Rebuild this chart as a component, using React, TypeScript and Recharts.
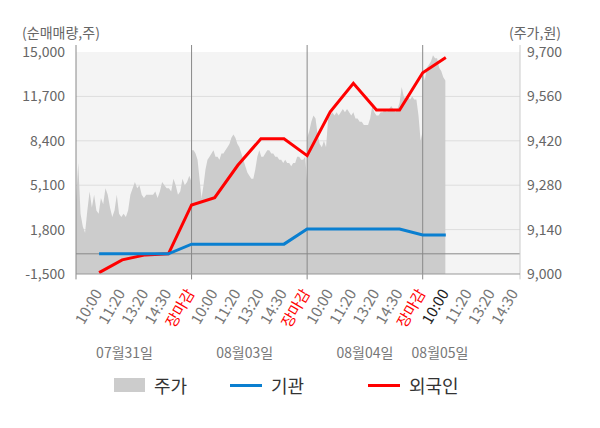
import React from 'react';
import { ComposedChart, Area, Line, XAxis, YAxis, CartesianGrid, ReferenceLine, ReferenceDot, Legend } from 'recharts';

const FONT = '"Noto Sans CJK KR", "Noto Sans", sans-serif';

// 주가 (price, won) — sampled through each trading day
const day1Price = [9230, 9350, 9190, 9150, 9130, 9200, 9260, 9210, 9250, 9200, 9190, 9240, 9220, 9270, 9250, 9210, 9180, 9200, 9250, 9190, 9180, 9190, 9180, 9200, 9250, 9270, 9290, 9270, 9280, 9250, 9240, 9250, 9250, 9250, 9250, 9260, 9240, 9260, 9290, 9280, 9270, 9270, 9260, 9300, 9280, 9250, 9260, 9300, 9280, 9290, 9310, 9290];
const day2Price = [9390, 9390, 9380, 9360, 9300, 9240, 9280, 9330, 9360, 9370, 9380, 9390, 9370, 9370, 9360, 9380, 9380, 9390, 9400, 9410, 9430, 9440, 9430, 9410, 9400, 9380, 9360, 9340, 9320, 9310, 9300, 9300, 9330, 9370, 9390, 9370, 9370, 9380, 9390, 9390, 9380, 9380, 9370, 9370, 9360, 9360, 9350, 9360, 9350, 9350, 9340, 9350, 9350, 9370, 9370, 9360, 9360, 9370, 9290];
const day3Price = [9430, 9450, 9480, 9500, 9490, 9440, 9410, 9400, 9420, 9400, 9490, 9500, 9510, 9500, 9510, 9500, 9510, 9520, 9510, 9520, 9510, 9500, 9510, 9490, 9490, 9480, 9480, 9470, 9470, 9470, 9490, 9530, 9510, 9500, 9500, 9510, 9510, 9520, 9510, 9520, 9530, 9520, 9510, 9520, 9540, 9590, 9560, 9550, 9560, 9550, 9560, 9550, 9550, 9500, 9420, 9450];
const day4Price = [9640, 9610, 9650, 9660, 9670, 9690, 9680, 9680, 9650, 9640, 9620, 9610];

// 순매매량 (net buying, shares) at each labelled time slot
const flowTimes = [1, 2, 3, 4, 5, 6, 7, 8, 9, 10, 11, 12, 13, 14, 15, 16];
const institution = [0, 0, 0, 0, 720, 720, 720, 720, 720, 1840, 1840, 1840, 1840, 1840, 1400, 1400];
const foreigner = [-1400, -450, -80, 0, 3630, 4170, 6580, 8550, 8550, 7300, 10560, 12670, 10690, 10690, 13460, 14600];

const xTickValues = [1, 2, 3, 4, 5, 6, 7, 8, 9, 10, 11, 12, 13, 14, 15, 16, 17, 18, 19];
const xTickLabels = ['10:00', '11:20', '13:20', '14:30', '장마감', '10:00', '11:20', '13:20', '14:30', '장마감', '10:00', '11:20', '13:20', '14:30', '장마감', '10:00', '11:20', '13:20', '14:30'];
const dateTickValues = [2.1, 7.3, 12.5, 15.75];
const dateLabels = ['07월31일', '08월03일', '08월04일', '08월05일'];
const leftTicks = [-1500, 1800, 5100, 8400, 11700, 15000];
const rightTicks = [9000, 9140, 9280, 9420, 9560, 9700];
const dayBounds = [0, 5, 10, 15];
const currentTick = 16;
const X_MAX = 19.21;
const LEFT_MIN = -1500;

const legendItems = [
  { name: '주가', kind: 'rect', color: '#cccccc' },
  { name: '기관', kind: 'line', color: '#0a7fd0' },
  { name: '외국인', kind: 'line', color: '#ff0000' },
];

const buildData = () => {
  const rows: any[] = [];
  const days = [day1Price, day2Price, day3Price];
  days.forEach((arr, d) => {
    arr.forEach((p, i) => rows.push({ t: d * 5 + (5 * i) / (arr.length - 1), price: p }));
  });
  day4Price.forEach((p, i) => rows.push({ t: 15 + (0.98 * i) / (day4Price.length - 1), price: p }));
  flowTimes.forEach((t, i) => rows.push({ t, inst: institution[i], frgn: foreigner[i] }));
  rows.sort((a, b) => a.t - b.t);
  return rows;
};
const data = buildData();

const XTick = (props: any) => {
  const { x, y, payload } = props;
  const idx = Math.round(payload.value) - 1;
  const label = xTickLabels[idx];
  const color = label === '장마감' ? '#ff0000' : payload.value === currentTick ? '#222' : '#777';
  const ax = x + 3.5;
  const ay = y + 19;
  return (
    <text x={ax} y={ay} transform={`rotate(-60, ${ax}, ${ay})`} textAnchor="end" fill={color} fontSize={15} fontFamily={FONT}>
      {label}
    </text>
  );
};

const dateLabelContent = (text: string) => (p: any) => {
  const vb = p.viewBox || { x: 0, y: 0, width: 0, height: 0 };
  const cx = vb.x + (vb.width || 0) / 2;
  const cy = vb.y + (vb.height || 0) / 2;
  return (
    <text x={cx} y={cy + 84} textAnchor="middle" fill="#777" fontSize={14} fontFamily={FONT}>
      {text}
    </text>
  );
};

const LegendContent = () => (
  <div style={{ position: 'relative', width: 600, height: 26, fontFamily: FONT, fontSize: 18, color: '#333' }}>
    {legendItems.map((it, i) => {
      const lefts = [114, 230, 368];
      return (
        <div key={it.name} style={{ position: 'absolute', left: lefts[i], top: 0, height: 26, display: 'flex', alignItems: 'center' }}>
          {it.kind === 'rect' ? (
            <div style={{ width: 31, height: 14, background: it.color }} />
          ) : (
            <div style={{ width: 32, height: 3, background: it.color }} />
          )}
          <span style={{ marginLeft: 9, lineHeight: '26px' }}>{it.name}</span>
        </div>
      );
    })}
  </div>
);

const fmt = (v: number) => v.toLocaleString('en-US');

export default function App() {
  return (
    <div style={{ position: 'absolute', left: 0, top: 0, width: 600, height: 428, background: '#fff' }}>
      <ComposedChart width={600} height={428} data={data} margin={{ top: 52, right: 0, left: 0, bottom: 64 }}>
        <CartesianGrid yAxisId="left" fill="#f4f4f4" stroke="#dddddd" vertical={false} horizontalValues={[1800, 5100, 8400, 11700]} />
        <XAxis
          type="number"
          dataKey="t"
          domain={[0, X_MAX]}
          ticks={xTickValues}
          interval={0}
          allowDataOverflow
          tickLine={false}
          tickSize={0}
          tickMargin={0}
          axisLine={{ stroke: '#999' }}
          height={90}
          tick={<XTick />}
        />
        <YAxis
          yAxisId="left"
          orientation="left"
          width={76}
          domain={[LEFT_MIN, 15000]}
          ticks={leftTicks}
          interval={0}
          allowDataOverflow
          axisLine={false}
          tickLine={false}
          tickSize={0}
          tickMargin={11}
          tickFormatter={fmt}
          tick={{ fill: '#666', fontSize: 14, fontFamily: FONT }}
          label={{
            content: (p: any) => (
              <text x={(p.viewBox?.x ?? 0) + 61} y={(p.viewBox?.y ?? 52) - 14} textAnchor="middle" fill="#666" fontSize={14} fontFamily={FONT}>
                (순매매량,주)
              </text>
            ),
          }}
        />
        <YAxis
          yAxisId="right"
          orientation="right"
          width={80}
          domain={[9000, 9700]}
          ticks={rightTicks}
          interval={0}
          allowDataOverflow
          axisLine={false}
          tickLine={false}
          tickSize={0}
          tickMargin={7}
          tickFormatter={fmt}
          tick={{ fill: '#666', fontSize: 14, fontFamily: FONT }}
          label={{
            content: (p: any) => (
              <text x={(p.viewBox?.x ?? 520) + 15} y={(p.viewBox?.y ?? 52) - 14} textAnchor="middle" fill="#666" fontSize={14} fontFamily={FONT}>
                (주가,원)
              </text>
            ),
          }}
        />
        <Area
          yAxisId="right"
          type="linear"
          dataKey="price"
          fill="#cccccc"
          fillOpacity={1}
          stroke="none"
          connectNulls
          isAnimationActive={false}
          dot={false}
          activeDot={false}
        />
        <ReferenceLine yAxisId="left" y={0} stroke="#888" strokeWidth={1} />
        {dayBounds.map((b) => (
          <ReferenceLine
            key={b}
            yAxisId="left"
            segment={[{ x: b, y: 15520 }, { x: b, y: -1900 }]}
            stroke="#888"
            strokeWidth={1}
            ifOverflow="visible"
          />
        ))}
        <ReferenceLine
          yAxisId="left"
          segment={[{ x: X_MAX, y: 15520 }, { x: X_MAX, y: -1900 }]}
          stroke="#cccccc"
          strokeWidth={1}
          ifOverflow="visible"
        />
        <Line yAxisId="left" type="linear" dataKey="frgn" stroke="#ff0000" strokeWidth={3} dot={false} activeDot={false} connectNulls isAnimationActive={false} />
        <Line yAxisId="left" type="linear" dataKey="inst" stroke="#0a7fd0" strokeWidth={3} dot={false} activeDot={false} connectNulls isAnimationActive={false} />
        {dateTickValues.map((v, i) => (
          <ReferenceDot
            key={v}
            yAxisId="left"
            x={v}
            y={LEFT_MIN}
            r={1}
            fill="none"
            stroke="none"
            ifOverflow="visible"
            label={{ content: dateLabelContent(dateLabels[i]) }}
          />
        ))}
        <Legend
          verticalAlign="middle"
          align="center"
          layout="horizontal"
          content={<LegendContent />}
          wrapperStyle={{ position: 'absolute', left: 0, top: 372, width: 600, height: 26 }}
        />
      </ComposedChart>
    </div>
  );
}
